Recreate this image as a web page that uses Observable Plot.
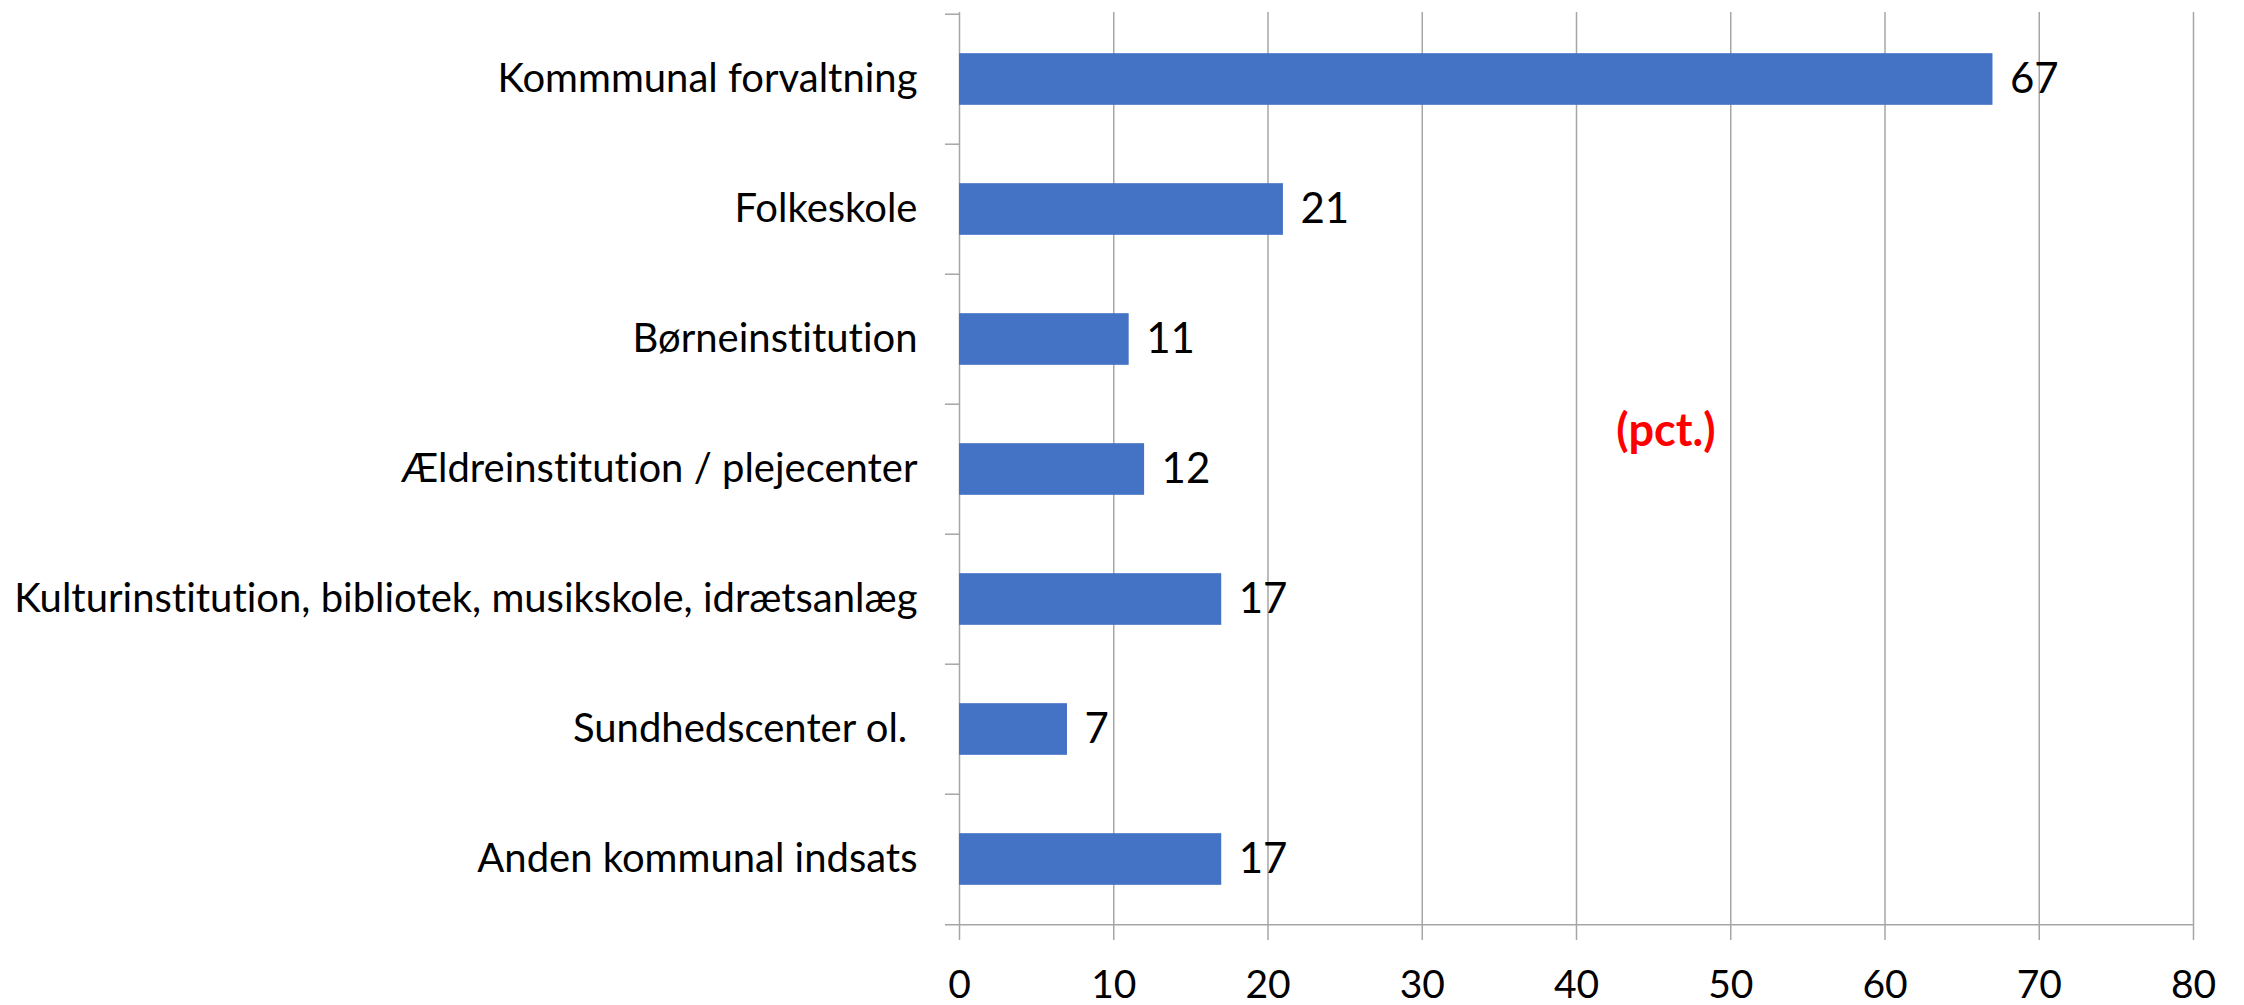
<!DOCTYPE html>
<html>
<head>
<meta charset="utf-8">
<script src="https://cdn.jsdelivr.net/npm/d3@7"></script>
<script src="https://cdn.jsdelivr.net/npm/@observablehq/plot@0.6"></script>
<style>
  html, body { margin: 0; padding: 0; background: #fff; }
  #chart svg { display: block; font-variant-ligatures: none; }
  #chart svg text { font-variant-ligatures: none; font-feature-settings: "liga" 0, "clig" 0; }
</style>
</head>
<body>
<div id="chart"></div>
<script>
const categories = [
  "Kommmunal forvaltning",
  "Folkeskole",
  "Børneinstitution",
  "Ældreinstitution / plejecenter",
  "Kulturinstitution, bibliotek, musikskole, idrætsanlæg",
  "Sundhedscenter ol. ",
  "Anden kommunal indsats"
];
const values = [67, 21, 11, 12, 17, 7, 17];
const xTicks = [0, 10, 20, 30, 40, 50, 60, 70, 80];
const unitLabel = "(pct.)";

const data = categories.map((c, i) => ({category: c, value: values[i]}));

const W = 2244, H = 1005;
const mTop = 12, mBottom = 79, mLeft = 959, mRight = 51;
const band = (H - mTop - mBottom) / categories.length;
const grey = "#a6a6a6";
const font = "Lato, Carlito, Calibri, sans-serif";

const chart = Plot.plot({
  width: W,
  height: H,
  marginTop: mTop,
  marginBottom: mBottom,
  marginLeft: mLeft,
  marginRight: mRight,
  style: {fontFamily: font, background: "#fff", color: "#000"},
  x: {domain: [0, 80], ticks: xTicks},
  y: {domain: categories, padding: 0},
  marks: [
    Plot.ruleX(xTicks.slice(1), {stroke: grey, strokeWidth: 1.5}),
    Plot.ruleX([0], {stroke: grey, strokeWidth: 1.5}),
    // category boundary tick marks (left of axis)
    Plot.ruleY(categories, {y: d => d, dy: -band / 2, x1: 0, x2: 0, insetLeft: -14, stroke: grey, strokeWidth: 1.5}),
    // bottom axis line
    Plot.ruleY([categories[categories.length - 1]], {y: d => d, dy: band / 2, x1: 0, x2: 80, insetLeft: -14, stroke: grey, strokeWidth: 1.5}),
    Plot.barX(data, {x: "value", y: "category", fill: "#4472C4", insetTop: band * 0.3, insetBottom: band * 0.3}),
    Plot.text(data, {x: "value", y: "category", text: d => String(d.value), textAnchor: "start", dx: 17, fontSize: 42, fill: "#000"}),
    Plot.axisX(xTicks, {anchor: "bottom", tickSize: 14, tickPadding: 30, stroke: grey, strokeWidth: 1.5, fontSize: 39, fill: "#000", label: null, strokeOpacity: 1}),
    Plot.axisY({anchor: "left", tickSize: 0, tickPadding: 42, fontSize: 40, fill: "#000", label: null}),
    Plot.text([unitLabel], {x: () => 45.8, y: () => categories[3], dy: -38, text: d => d, fontSize: 45, fontWeight: "bold", fill: "#ff0000"})
  ]
});

document.getElementById("chart").appendChild(chart);
</script>
</body>
</html>
